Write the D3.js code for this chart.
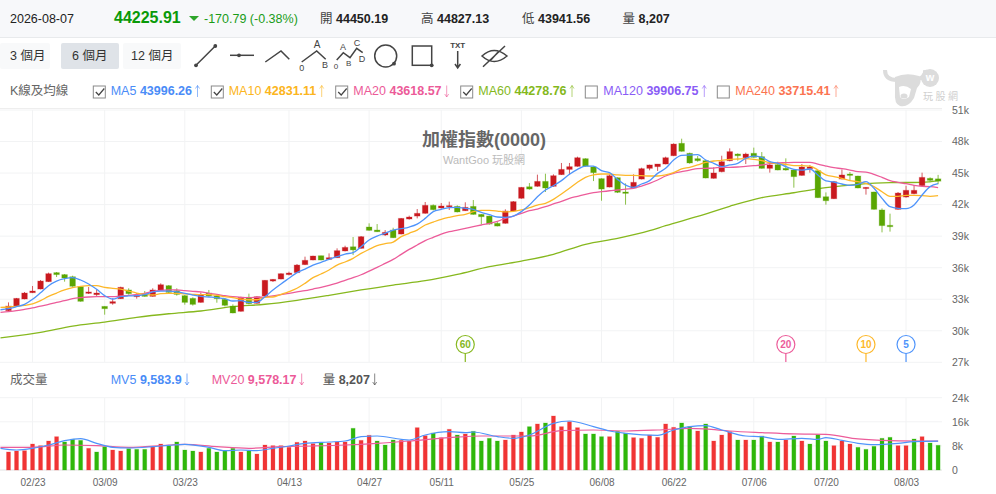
<!DOCTYPE html>
<html><head><meta charset="utf-8">
<script src="https://cdn.jsdelivr.net/npm/d3@7"></script>
<style>
html,body{margin:0;padding:0;background:#fff;overflow:hidden}
svg{display:block;font-family:Arial,"Liberation Sans","Noto Sans CJK TC",sans-serif}
</style></head><body><svg id="c" width="996" height="494"></svg>
<script>
const open=[31.91,32.35,33.02,33.62,33.97,34.67,35.53,35.34,35.14,34.19,33.56,33.43,32.32,32.61,33.05,33.88,33.24,33.53,33.27,33.88,34.29,33.81,33.34,33.08,32.70,33.59,33.31,32.99,32.35,31.85,33.18,32.61,33.31,34.73,34.92,35.34,35.53,36.29,36.73,37.14,36.79,36.95,37.59,37.99,37.84,39.87,39.58,39.11,39.58,39.20,40.63,40.91,41.17,41.93,41.68,41.80,41.83,41.42,41.83,41.07,40.91,40.22,40.22,41.39,42.60,43.70,43.74,44.21,43.74,44.85,45.35,45.64,46.37,45.58,44.47,43.67,44.56,43.20,43.58,44.43,45.45,45.61,45.86,46.65,47.83,46.88,46.37,46.18,44.50,45.13,46.18,46.81,46.46,46.88,46.56,45.45,45.80,45.45,45.29,44.78,45.42,45.23,42.75,42.56,44.43,44.91,44.72,43.55,43.20,41.49,40.03,41.55,42.72,43.04,43.80,44.50,44.45];
const close=[32.35,33.08,33.59,33.78,34.73,35.43,35.34,35.02,34.23,32.80,33.69,33.59,32.10,32.77,34.13,33.53,33.40,33.27,33.88,34.38,33.65,33.46,32.70,32.51,33.40,33.31,33.05,32.42,31.69,33.18,32.58,33.24,34.80,34.89,35.43,35.49,36.25,36.70,37.11,36.73,36.95,37.62,37.93,37.69,38.95,39.55,39.42,39.36,38.85,40.69,40.82,41.17,41.93,41.52,41.87,41.90,41.30,41.74,41.07,40.85,40.15,39.96,41.39,42.28,43.64,43.48,44.21,43.58,44.75,45.35,45.61,46.46,45.67,45.04,43.48,44.75,43.17,43.07,44.12,45.42,45.77,45.86,46.46,47.76,47.07,45.96,46.18,44.53,45.01,46.08,47.04,46.65,46.81,46.50,45.45,45.77,45.29,45.29,44.66,45.58,45.58,42.66,42.37,44.18,44.82,44.78,43.58,43.64,41.55,40.00,39.90,43.10,43.36,43.36,44.59,44.31,44.23];
const high=[32.70,33.12,33.69,34.26,34.83,35.53,35.59,35.40,35.24,34.26,34.16,33.94,32.32,33.08,34.19,34.04,33.59,33.78,34.04,34.51,34.35,34.04,33.40,33.18,33.65,33.88,33.40,33.05,32.51,33.24,33.53,33.27,34.83,34.92,35.46,35.62,36.35,37.05,37.14,37.14,37.36,37.84,38.09,38.92,39.01,40.22,40.15,39.58,39.80,40.72,40.95,41.58,42.25,42.02,42.15,42.28,41.93,42.22,42.44,41.10,40.95,40.34,41.55,42.34,43.67,44.05,44.85,44.94,44.88,45.96,45.96,46.56,46.40,45.64,44.50,44.88,44.59,44.02,44.88,45.51,45.80,45.86,46.56,47.83,48.27,46.94,46.62,46.24,45.55,46.65,47.35,46.88,46.94,47.42,47.00,45.99,46.08,46.40,45.35,45.86,45.77,45.29,43.16,44.25,45.35,45.10,44.75,43.67,43.23,41.64,41.14,43.20,43.80,43.86,45.04,44.59,44.83];
const low=[31.88,32.32,32.99,33.59,33.94,34.64,35.11,34.67,34.19,32.77,33.50,33.31,31.53,32.48,33.02,33.43,33.05,33.24,33.24,33.84,33.59,33.34,32.48,32.39,32.67,33.24,32.67,32.32,31.66,31.82,32.51,32.58,33.27,34.64,34.89,35.27,35.49,36.25,36.70,36.70,36.76,36.92,37.55,37.20,37.81,39.52,39.39,39.01,38.82,39.17,40.57,40.69,41.14,41.45,41.61,41.49,41.26,41.39,41.04,40.12,40.09,39.93,40.19,41.36,42.56,43.42,43.70,43.20,43.70,44.82,44.82,45.61,45.61,44.24,42.37,43.64,43.10,41.99,43.55,44.40,45.26,45.20,45.83,46.62,47.04,45.89,46.08,44.50,44.47,45.07,46.12,46.18,45.86,46.46,45.42,45.04,45.26,45.23,43.61,44.75,45.04,42.63,41.99,42.53,44.40,44.34,43.55,42.95,41.52,39.36,39.43,41.52,42.66,42.98,43.77,44.12,43.94];
const ma5=[32.00,32.10,32.29,32.51,32.99,33.62,34.29,34.73,34.95,35.05,34.83,34.45,33.94,33.34,33.02,33.24,33.31,33.34,33.43,33.69,33.78,33.78,33.69,33.56,33.40,33.27,33.21,33.15,33.05,32.83,32.86,32.70,32.70,33.24,33.88,34.45,34.99,35.53,35.87,36.25,36.51,36.79,37.05,37.30,37.43,38.00,38.63,39.01,39.27,39.58,39.71,39.87,40.15,40.69,41.33,41.55,41.71,41.74,41.64,41.55,41.26,41.04,40.82,40.79,40.91,41.33,41.96,42.75,43.39,43.80,44.28,44.88,45.35,45.67,45.67,45.23,45.04,44.40,43.86,43.64,43.96,44.28,44.97,45.45,46.24,46.69,46.72,46.75,46.24,45.93,45.61,45.77,45.93,46.40,46.62,46.50,46.08,45.93,45.61,45.35,45.29,45.39,44.82,44.25,44.15,43.96,43.83,43.93,44.18,43.55,42.60,41.80,41.64,41.61,41.96,42.91,43.71,44.00];
const ma10=[32.23,32.26,32.32,32.42,32.55,32.86,33.27,33.59,33.88,34.10,34.23,34.29,34.29,34.13,34.04,33.97,33.78,33.59,33.46,33.40,33.53,33.56,33.56,33.50,33.46,33.43,33.43,33.37,33.24,33.15,33.02,32.95,32.95,33.18,33.21,33.46,33.72,34.04,34.51,35.05,35.40,35.78,36.25,36.54,36.89,37.36,37.74,38.09,38.28,38.44,38.95,39.27,39.58,40.06,40.34,40.60,40.79,40.95,41.07,41.33,41.45,41.45,41.39,41.30,41.36,41.49,41.71,41.96,42.12,42.50,43.01,43.55,44.12,44.59,44.82,44.91,44.91,44.82,44.78,44.78,44.75,44.72,44.72,44.82,45.04,45.39,45.55,45.77,46.02,46.15,46.21,46.31,46.34,46.37,46.31,46.18,45.99,45.89,45.83,45.70,45.70,45.67,45.29,44.82,44.66,44.50,44.28,44.18,44.02,43.71,43.23,42.79,42.79,42.88,42.88,42.85,42.79,42.85];
const ma20=[31.75,31.82,31.91,32.04,32.17,32.35,32.51,32.70,32.86,33.05,33.15,33.21,33.24,33.24,33.24,33.31,33.37,33.46,33.56,33.75,33.84,33.88,33.88,33.81,33.75,33.69,33.56,33.46,33.34,33.24,33.18,33.15,33.18,33.21,33.31,33.43,33.56,33.69,33.81,33.97,34.13,34.32,34.54,34.80,35.05,35.33,35.68,36.03,36.41,36.79,37.27,37.74,38.16,38.57,38.89,39.20,39.42,39.58,39.74,39.90,40.06,40.22,40.41,40.69,40.91,41.17,41.42,41.58,41.80,42.06,42.31,42.60,42.79,42.98,43.13,43.23,43.32,43.39,43.48,43.55,43.77,44.02,44.34,44.72,44.97,45.13,45.29,45.42,45.45,45.48,45.55,45.55,45.58,45.64,45.70,45.77,45.89,45.96,45.99,46.02,46.02,46.02,45.86,45.67,45.51,45.42,45.29,45.13,45.10,44.88,44.59,44.28,44.12,43.99,43.83,43.74,43.71,43.61];
const ma60Idx=[-1,0,4,8,12,16,20,24,28,32,36,40,44,48,52,56,60,64,68,72,76,80,82,86,90,94,98,102,106,110,114,116];
const ma60=[29.32,29.41,29.85,30.45,30.83,31.28,31.62,31.88,32.29,32.52,32.90,33.37,33.88,34.35,34.76,35.37,36.10,36.63,37.27,38.22,38.79,39.52,40.00,40.88,41.84,42.66,43.13,43.61,43.93,44.09,44.12,44.28];
const volume=[5.98,6.31,6.42,8.63,8.08,9.63,11.07,9.30,10.18,9.85,7.20,5.98,7.75,6.64,6.31,7.08,6.86,6.86,7.75,8.63,7.97,9.30,6.64,6.31,5.98,7.20,5.98,6.31,7.20,5.98,6.31,5.31,8.30,8.08,8.08,7.53,9.19,9.63,8.75,9.08,8.97,9.30,9.30,13.84,9.85,11.51,9.63,8.30,9.96,9.85,9.63,14.06,11.40,12.29,10.74,13.51,11.62,11.96,12.84,9.63,10.52,9.63,9.96,11.62,12.62,14.39,15.28,15.61,17.93,14.39,16.05,14.06,11.96,11.96,11.07,11.07,12.84,12.18,10.74,10.52,11.62,10.85,15.28,14.17,15.61,14.39,12.95,15.28,9.63,11.62,12.73,9.96,9.96,9.96,11.29,9.30,9.30,9.96,11.29,9.63,8.63,11.73,9.63,8.08,9.63,8.63,7.53,6.86,7.86,10.52,10.85,8.08,8.08,10.30,11.07,8.97,8.207];
const volUp=[1,1,1,1,1,1,1,0,0,0,1,0,0,1,1,0,0,0,1,1,0,0,0,0,1,0,0,0,0,1,0,1,1,1,1,1,1,1,1,0,1,1,1,0,1,1,0,0,0,1,1,1,1,0,1,1,0,1,0,0,0,0,1,1,1,0,1,0,1,1,1,1,0,0,0,1,0,0,1,1,1,1,1,1,0,0,1,0,1,1,1,0,1,0,0,1,0,1,0,1,0,0,0,1,1,1,0,0,0,0,0,1,1,0,1,0,0];
const mv5Idx=[-1,1,3,5,7,9,11,13,15,18,20,22,25,27,29,31,33,35,37,40,42,44,46,49,50,52,55,57,58,61,63,65,68,70,73,75,77,81,83,85,87,89,92,94,96,99,101,102,104,106,108,111,113,116];
const mv5=[7.20,6.64,7.20,8.30,9.74,10.41,8.86,7.53,7.31,7.75,8.19,8.52,7.53,6.42,6.64,6.42,7.20,7.97,8.86,9.30,9.63,11.07,11.29,10.18,9.96,11.62,12.73,12.40,12.62,11.07,10.52,11.62,15.50,16.27,14.39,12.95,12.18,11.51,13.28,14.39,14.72,13.28,11.29,11.07,10.18,10.52,10.18,10.74,9.85,8.86,8.41,8.86,9.41,9.58];
const mv20Idx=[-1,3,7,11,15,20,22,26,30,34,38,42,46,50,55,59,61,65,69,73,77,81,85,87,90,94,98,102,106,110,116];
const mv20=[7.53,7.53,8.30,8.08,7.53,8.30,8.52,7.75,7.20,7.75,7.97,8.30,8.86,9.63,10.74,11.29,11.29,11.29,13.06,13.28,12.95,13.28,13.84,13.62,12.95,12.40,11.96,11.84,10.30,9.74,9.58];
const dateIdx=[3,12,22,35,45,54,64,74,83,93,102,112];
const dateLabels=["02/23","03/09","03/23","04/13","04/27","05/11","05/25","06/08","06/22","07/06","07/20","08/03"];
const priceTicks=[27,30,33,36,39,42,45,48,51];
const volTicks=[0,8,16,24];
const markerIdx=[57,97,107,112];
const markerText=["60","20","10","5"];
const maLegend=[["MA5","43996.26",1,"#4a8cf7",1],["MA10","42831.11",1,"#fcb520",1],["MA20","43618.57",0,"#ec5a98",1],["MA60","44278.76",1,"#84b81c",1],["MA120","39906.75",1,"#8a5cf6",0],["MA240","33715.41",1,"#fb7350",0]];
const periods=["3 個月","6 個月","12 個月"];

const svg=d3.select("#c");
const RED="#c9191f",GREEN="#5aa602";
const colors={ma5:"#4f94fb",ma10:"#fdb82a",ma20:"#ec5c9a",ma60:"#86b81e"};
const x=d3.scaleLinear().domain([0,116]).range([8.5,938.1]);
const y=d3.scaleLinear().domain([27,51]).range([362.3,110]);
const yv=d3.scaleLinear().domain([0,24]).range([470,397.7]);
const FS=12.5;
const T=(t,xx,yy,o={})=>svg.append("text").attr("x",xx).attr("y",yy).attr("font-size",o.s||FS).attr("fill",o.c||"#333").attr("font-weight",o.b?"700":"400").attr("text-anchor",o.a||"start").text(t);
const arrow=(ax,y0,y1,up,c,op)=>svg.append("path").attr("d",up?`M${ax} ${y1}V${y0}M${ax-2} ${y0+3}L${ax} ${y0}L${ax+2} ${y0+3}`:`M${ax} ${y0}V${y1}M${ax-2} ${y1-3}L${ax} ${y1}L${ax+2} ${y1-3}`).attr("fill","none").attr("stroke",c).attr("stroke-width",1).attr("opacity",op);

// header band
svg.append("rect").attr("width",996).attr("height",37).attr("fill","#f7f8fa");
svg.append("line").attr("x1",0).attr("x2",996).attr("y1",37.5).attr("y2",37.5).attr("stroke","#e8eaec");
T("2026-08-07",10,23,{c:"#222"});
T("44225.91",114,23,{s:16,c:"#0a9a08",b:1});
svg.append("path").attr("d","M189 16h10l-5 5z").attr("fill","#2ea52a");
T("-170.79 (-0.38%)",204,23,{c:"#1a9c18"});
[["開","44450.19",320],["高","44827.13",421],["低","43941.56",522],["量","8,207",622.5]].forEach(d=>{
  T(d[0],d[2],23,{c:"#444"});T(d[1],d[2]+16,23,{c:"#222",b:1});
});
// period buttons
[[0,50],[61,58],[123,58]].forEach((b,i)=>{
  svg.append("rect").attr("x",b[0]).attr("y",43).attr("width",b[1]).attr("height",26).attr("rx",2).attr("fill",i==1?"#dfe3e8":"#f8f9fa");
  T(periods[i],i==0?10:(i==1?72:131),60,{c:"#333"});
});
// tools
const tool=svg.append("g").attr("fill","none").attr("stroke","#444").attr("stroke-width",1.5);
const dot=(a,b,r=1.9)=>tool.append("circle").attr("cx",a).attr("cy",b).attr("r",r).attr("fill","#444").attr("stroke","none");
tool.append("path").attr("d","M196 65.3L215.3 46");dot(196,65.3);dot(215.3,46);
tool.append("path").attr("d","M230 55.3h24");dot(239,55.3);
tool.append("path").attr("d","M265.3 62L281 51L289.3 59.3");
tool.append("path").attr("d","M301.7 62L316.7 51L325.7 59.3");
tool.append("path").attr("d","M336.7 60L343.3 52.7L350 57.7L356.7 48.3L362.7 52.7");
tool.append("circle").attr("cx",385.7).attr("cy",56).attr("r",11);dot(394,63.7);
tool.append("rect").attr("x",412.3).attr("y",46).attr("width",19.4).attr("height",19.3);dot(431.7,65.3);
tool.append("path").attr("d","M457.7 51V68M455 64L457.7 68L460.4 64");
tool.append("path").attr("d","M482 56Q494 45 507 56Q494 67 482 56ZM483 66.7L505 46M490 61L499 51");
[["A",317,48,10],["0",301.7,71,9],["B",325,68,9],["A",343,50,9],["B",348.7,66,8],["C",357,45.5,9],["D",362,61.7,9],["0",336,69,8],["TXT",457.7,48,8]].forEach(d=>T(d[0],d[1],d[2],{s:d[3],c:"#444",b:d[0]=="TXT",a:"middle"}));
// legend row
T("K線及均線",10,95,{c:"#666"});
const legX=[[93.3,110.7,197.5],[211.3,228.7,321.7],[335.7,353.3,446.7],[460.7,478.3,572],[585.3,603.3,704.3],[717.3,735.3,836]];
maLegend.forEach((m,i)=>{
  const lx=legX[i];
  svg.append("rect").attr("x",lx[0]).attr("y",86).attr("width",12).attr("height",12).attr("fill","#fff").attr("stroke","#8a8a8a");
  if(m[4])svg.append("path").attr("d",`M${lx[0]+2.5} 92l3 3l5.5-6.5`).attr("fill","none").attr("stroke","#444").attr("stroke-width",1.2);
  const t=T(m[0]+" ",lx[1],95,{c:m[3]});
  t.append("tspan").attr("font-weight",700).text(m[1]);
  arrow(lx[2],85.5,97,m[2],m[3],.6);
});
// watermark
const wm=svg.append("g");
wm.append("path").attr("d","M885 70Q885 80 897 80M925 70Q926 79 915 79").attr("fill","none").attr("stroke","#dcdcdc").attr("stroke-width",4);
wm.append("path").attr("d","M895 77Q906 72 919 76Q923 82 917 88L914 98Q908 108 900 106Q894 104 895 92Z").attr("fill","#dcdcdc");
wm.append("path").attr("d","M899 87Q905 84 911 89L909 97Q903 101 900 97Z").attr("fill","#fff");
wm.append("ellipse").attr("cx",904).attr("cy",96).attr("rx",3.5).attr("ry",2.5).attr("fill","#dcdcdc");
wm.append("circle").attr("cx",930).attr("cy",78).attr("r",9).attr("fill","#dcdcdc");
T("w",930,81,{s:11,c:"#fff",b:1,a:"middle"});
T("玩股網",923,100,{s:10,c:"#cfcfcf"}).attr("letter-spacing","2.5");
// frame line
svg.append("line").attr("x1",0).attr("x2",942).attr("y1",108.5).attr("y2",108.5).attr("stroke","#eeeeee");

// grids and axes
const grid="#f2f3f4";
const ax=svg.append("g").attr("transform","translate(942,0)").call(d3.axisRight(y).tickValues(priceTicks).tickSize(0).tickPadding(10).tickFormat(d=>d+"k"));
ax.select(".domain").remove();
ax.selectAll("text").attr("font-size",10.5).attr("fill","#666").attr("font-family","inherit");
const av=svg.append("g").attr("transform","translate(942,0)").call(d3.axisRight(yv).tickValues(volTicks).tickSize(0).tickPadding(10).tickFormat(d=>d?d+"k":"0"));
av.select(".domain").remove();
av.selectAll("text").attr("font-size",10.5).attr("fill","#666").attr("font-family","inherit");
svg.append("g").selectAll("line").data(priceTicks).join("line").attr("x1",0).attr("x2",942).attr("y1",d=>y(d)).attr("y2",d=>y(d)).attr("stroke",grid);
svg.append("g").selectAll("line").data(volTicks).join("line").attr("x1",0).attr("x2",942).attr("y1",d=>yv(d)).attr("y2",d=>yv(d)).attr("stroke",d=>d?grid:"#e2e2e2");
const gx=svg.append("g");
gx.selectAll("line.a").data(dateIdx).join("line").attr("class","a").attr("x1",d=>x(d)).attr("x2",d=>x(d)).attr("y1",110).attr("y2",362).attr("stroke",grid);
gx.selectAll("line.b").data(dateIdx).join("line").attr("class","b").attr("x1",d=>x(d)).attr("x2",d=>x(d)).attr("y1",398).attr("y2",470).attr("stroke",grid);
const axb=svg.append("g").attr("transform","translate(0,470)").call(d3.axisBottom(x).tickValues(dateIdx).tickSize(0).tickPadding(9).tickFormat((d,i)=>dateLabels[i]));
axb.select(".domain").remove();
axb.selectAll("text").attr("font-size",10).attr("fill","#666").attr("font-family","inherit");

// title
T("加權指數(0000)",484,146,{s:18,c:"#666",b:1,a:"middle"});
T("WantGoo 玩股網",484,164,{s:11,c:"#bbb",a:"middle"});

// MA lines and candles
const idx=d3.range(-1,117);
const line=d3.line().x(d=>x(d[0])).y(d=>y(d[1])).curve(d3.curveMonotoneX);
const drawP=(xs,vs,c,w=1.3,l=line)=>svg.append("path").attr("d",l(d3.zip(xs,vs))).attr("fill","none").attr("stroke",c).attr("stroke-width",w);
drawP(ma60Idx,ma60,colors.ma60);
const cg=svg.append("g");
const ci=d3.range(open.length);
const up=i=>close[i]>=open[i];
cg.selectAll("line").data(ci).join("line").attr("x1",i=>x(i)).attr("x2",i=>x(i)).attr("y1",i=>y(high[i])).attr("y2",i=>y(low[i])).attr("stroke",i=>up(i)?"#d45a60":"#8cc04a").attr("stroke-width",1);
cg.selectAll("rect").data(ci).join("rect").attr("x",i=>x(i)-2.8).attr("width",5.6).attr("y",i=>y(Math.max(open[i],close[i]))).attr("height",i=>Math.max(1.2,Math.abs(y(open[i])-y(close[i])))).attr("fill",i=>up(i)?RED:GREEN).attr("stroke",i=>up(i)?RED:GREEN).attr("stroke-opacity",.28).attr("stroke-width",1);
drawP(idx,ma20,colors.ma20);
drawP(idx,ma10,colors.ma10);
drawP(idx,ma5,colors.ma5);

// MA markers
markerIdx.forEach((k,i)=>{
  const c=[colors.ma60,colors.ma20,colors.ma10,colors.ma5][i],cx=x(k);
  svg.append("line").attr("x1",cx).attr("x2",cx).attr("y1",353).attr("y2",362).attr("stroke",c).attr("stroke-width",1.2);
  svg.append("circle").attr("cx",cx).attr("cy",344.5).attr("r",9).attr("fill","#fff").attr("stroke",c).attr("stroke-width",1.2);
  T(markerText[i],cx,348,{s:10,c:c,b:1,a:"middle"});
});

// volume
T("成交量",10,384,{c:"#666"});
[["MV5 ","9,583.9","#4a8cf7",110.7,187],["MV20 ","9,578.17","#ec5a98",211.7,301.7]].forEach(m=>{
  const t=T(m[0],m[3],384,{c:m[2]});t.append("tspan").attr("font-weight",700).text(m[1]);arrow(m[4],373.5,385,false,m[2],.7);
});
{const t=T("量 ",322.7,384,{c:"#555"});t.append("tspan").attr("font-weight",700).text("8,207");arrow(374.7,373.5,385,false,"#555",.7);}
const barUp="#f03434",barDn="#2fb70a";
svg.append("g").selectAll("rect").data(volume).join("rect").attr("x",(d,i)=>x(i)-2).attr("width",4).attr("y",d=>yv(d)).attr("height",d=>470-yv(d)).attr("fill",(d,i)=>volUp[i]?barUp:barDn).attr("stroke",(d,i)=>volUp[i]?barUp:barDn).attr("stroke-opacity",.22).attr("stroke-width",1);
const vline=d3.line().x(d=>x(d[0])).y(d=>yv(d[1])).curve(d3.curveMonotoneX);
drawP(mv20Idx,mv20,colors.ma20,1.2,vline);
drawP(mv5Idx,mv5,colors.ma5,1.2,vline);
</script></body></html>
